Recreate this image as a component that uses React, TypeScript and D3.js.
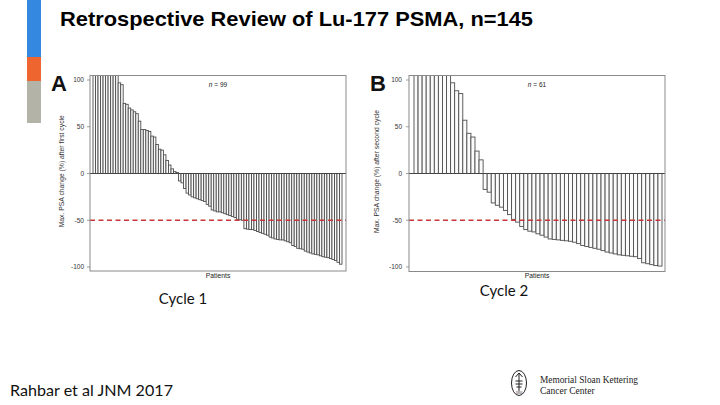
import React from "react";
import * as d3 from "d3";

const TITLE = "Retrospective Review of Lu-177 PSMA, n=145";
const TICKS = [100, 50, 0, -50, -100];

const VALUES_A = [
  160, 150, 145, 140, 135, 130, 125, 120, 115, 110,
  97, 95, 75, 74, 70, 68, 66, 64, 56, 47, 47, 46, 45, 40, 39, 31, 26, 25, 20, 14, 9, 5, 2, 1,
  -8, -10, -16, -21, -23, -25, -26, -27, -28, -29, -30, -33, -35, -39, -40,
  -41, -41, -42, -43, -44, -45, -46, -47, -49, -49.5, -50, -59, -59.5, -60, -60,
  -61, -62, -63, -64, -65, -66, -68, -69, -70, -70.5, -71, -71, -72, -73, -74,
  -77, -78, -80, -80.5, -81, -83, -84, -85, -86, -86.5, -87, -88, -89, -89.5, -90,
  -91, -92, -93, -95, -97,
];

const VALUES_B = [
  150, 145, 140, 135, 130, 125, 120, 115, 110,
  97, 88.5, 85.5, 57, 43, 39, 24, 14.6,
  -17, -20, -31.5, -34, -36, -39.5, -44, -49, -52, -56.7,
  -60, -61.7, -62.5, -64.5, -66, -68, -70, -70.5, -71, -71.5,
  -72, -72.5, -73.5, -75, -77, -78, -79, -80, -81, -82.5,
  -84, -85, -86, -87, -87.5, -88, -88.5, -89, -91, -95.5,
  -96.5, -97.5, -98.5, -99,
];

type PanelProps = {
  id: string;
  letter: string;
  values: number[];
  nLabel: string;
  yLabel: string;
  frame: [number, number, number, number];
  barRange: [number, number];
  tickRight: number;
  letterX: number;
  yLabelX: number;
};

function Panel(p: PanelProps) {
  const [fl, ft, fr, fb] = p.frame;
  const y = d3.scaleLinear().domain([-100, 100]).range([267, 80]);
  const x = d3
    .scaleBand<number>()
    .domain(p.values.map((_, i) => i))
    .range(p.barRange)
    .paddingInner(0)
    .paddingOuter(0);
  const cx = (fl + fr) / 2;
  const font = "'Liberation Sans', Arial, sans-serif";
  return (
    <g>
      <defs>
        <clipPath id={p.id}>
          <rect x={fl} y={ft} width={fr - fl} height={fb - ft} />
        </clipPath>
      </defs>
      <g clipPath={`url(#${p.id})`}>
        {p.values.map((v, i) => (
          <rect
            key={i}
            x={x(i)}
            y={Math.min(y(v), y(0))}
            width={x.bandwidth()}
            height={Math.abs(y(v) - y(0))}
            fill="#fbfbfb"
            stroke="#4e4e4e"
            strokeWidth={0.9}
          />
        ))}
      </g>
      <line x1={fl} x2={fr} y1={y(0)} y2={y(0)} stroke="#444" strokeWidth={1} />
      <line
        x1={fl}
        x2={fr}
        y1={y(-50)}
        y2={y(-50)}
        stroke="#c8373a"
        strokeWidth={1.3}
        strokeDasharray="5,3.5"
      />
      <rect x={fl} y={ft} width={fr - fl} height={fb - ft} fill="none" stroke="#8a8a8a" strokeWidth={1} />
      {TICKS.map((t) => (
        <g key={t}>
          <line x1={fl - 3} x2={fl} y1={y(t)} y2={y(t)} stroke="#777" strokeWidth={0.7} />
          <text
            x={p.tickRight}
            y={y(t)}
            dy="0.35em"
            textAnchor="end"
            fontSize={6.5}
            fill="#333"
            fontFamily={font}
          >
            {t}
          </text>
        </g>
      ))}
      <text
        transform={`translate(${p.yLabelX},${(ft + fb) / 2 - 2}) rotate(-90)`}
        textAnchor="middle"
        fontSize={6.8}
        fill="#333"
        fontFamily={font}
      >
        {p.yLabel}
      </text>
      <text x={cx} y={87} textAnchor="middle" fontSize={6.5} fill="#222" fontFamily={font}>
        <tspan fontStyle="italic">n</tspan>
        {" = " + p.nLabel}
      </text>
      <text x={cx} y={278} textAnchor="middle" fontSize={6.8} fill="#222" fontFamily={font}>
        Patients
      </text>
      <text x={p.letterX} y={91} fontSize={22} fontWeight="bold" fill="#111" fontFamily={font}>
        {p.letter}
      </text>
    </g>
  );
}

export default function App() {
  return (
    <svg
      width={720}
      height={405}
      viewBox="0 0 720 405"
      style={{ position: "absolute", left: 0, top: 0, background: "#fff" }}
    >
      <rect x={0} y={0} width={720} height={405} fill="#fff" />
      <rect x={27} y={0} width={14} height={57} fill="#3488e0" />
      <rect x={27} y={57} width={14} height={24} fill="#ef6530" />
      <rect x={27} y={81} width={14} height={42} fill="#b3b3a8" />
      <text
        x={60}
        y={25.5}
        fontSize={21}
        fontWeight="bold"
        fill="#000"
        fontFamily="'Liberation Sans', Arial, sans-serif"
        textLength={473}
        lengthAdjust="spacingAndGlyphs"
      >
        {TITLE}
      </text>
      <Panel
        id="clipA"
        letter="A"
        values={VALUES_A}
        nLabel="99"
        yLabel="Max. PSA change (%) after first cycle"
        frame={[90, 75.5, 346, 271]}
        barRange={[93, 342]}
        tickRight={84}
        letterX={51}
        yLabelX={64}
      />
      <Panel
        id="clipB"
        letter="B"
        values={VALUES_B}
        nLabel="61"
        yLabel="Max. PSA change (%) after second cycle"
        frame={[409, 75.5, 665, 271.5]}
        barRange={[414, 662]}
        tickRight={402}
        letterX={370}
        yLabelX={379}
      />
      <text x={183} y={304} textAnchor="middle" fontSize={15} fill="#111" fontFamily="Lato, sans-serif">
        Cycle 1
      </text>
      <text x={504} y={296} textAnchor="middle" fontSize={15} fill="#111" fontFamily="Lato, sans-serif">
        Cycle 2
      </text>
      <text x={10} y={396} fontSize={16} fill="#111" fontFamily="Lato, sans-serif" textLength={163} lengthAdjust="spacingAndGlyphs">
        Rahbar et al JNM 2017
      </text>
      <g stroke="#222" fill="none" strokeWidth={1}>
        <ellipse cx={519} cy={383} rx={7.5} ry={12.5} />
        <line x1={519} y1={373} x2={519} y2={391} />
        <path d="M515.5,377 L519,373 L522.5,377" />
        <line x1={515.5} y1={381} x2={522.5} y2={381} />
        <line x1={515.5} y1={384} x2={522.5} y2={384} />
        <line x1={516.5} y1={387} x2={521.5} y2={387} />
      </g>
      <text x={519} y={394} textAnchor="middle" fontSize={3} fill="#222" fontFamily="'Liberation Sans', sans-serif">
        1884
      </text>
      <text x={540} y={383} fontSize={9.5} fill="#222" fontFamily="'Liberation Serif', 'DejaVu Serif', serif" textLength={98} lengthAdjust="spacingAndGlyphs">
        Memorial Sloan Kettering
      </text>
      <text x={540} y={394} fontSize={9.5} fill="#222" fontFamily="'Liberation Serif', 'DejaVu Serif', serif">
        Cancer Center
      </text>
    </svg>
  );
}
